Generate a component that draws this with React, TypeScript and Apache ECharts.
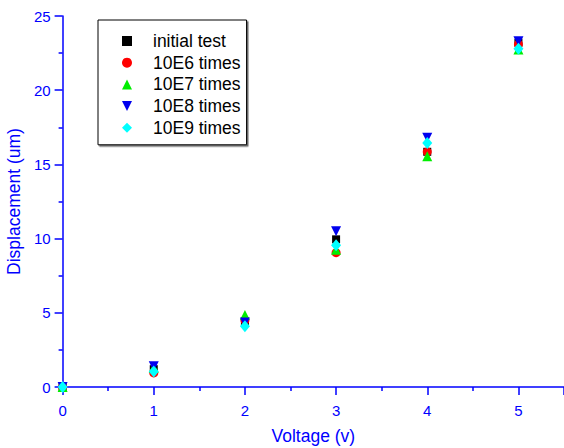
import React, { useEffect, useRef } from "react";
import * as echarts from "echarts";

const voltages = [0, 1, 2, 3, 4, 5];
const initialTest = [0, 1.2, 4.4, 9.95, 15.85, 23.2];
const e6Times = [0, 0.95, 4.5, 9.05, 15.85, 23.1];
const e7Times = [0, 1.3, 4.85, 9.25, 15.55, 22.75];
const e8Times = [0, 1.4, 4.35, 10.5, 16.8, 23.3];
const e9Times = [0, 1.05, 4.1, 9.55, 16.45, 22.8];

const seriesNames = ["initial test", "10E6 times", "10E7 times", "10E8 times", "10E9 times"];
const seriesData = [initialTest, e6Times, e7Times, e8Times, e9Times];
const seriesColors = ["#000000", "#ff0000", "#00ee00", "#0000ee", "#00ffff"];
const seriesSymbols = ["rect", "circle", "triangle", "path://M0,0L10,0L5,10Z", "diamond"];
const seriesSizes: any[] = [8, 9, 10, 10, [10, 12]];
const legendIcons = ["rect", "circle", "triangle", "path://M0,0L10,0L5,10Z", "diamond"];

const BLUE = "#0000ff";
const FONT = "Liberation Sans, Arial, sans-serif";

export default function App() {
  const ref = useRef<HTMLDivElement>(null);
  useEffect(() => {
    if (!ref.current) return;
    const chart = echarts.init(ref.current, undefined, { renderer: "svg" });
    chart.setOption({
      animation: false,
      backgroundColor: "#ffffff",
      textStyle: { fontFamily: FONT },
      grid: { left: 62.6, right: 0, top: 16, bottom: 61, containLabel: false, outerBoundsMode: "none" },
      legend: {
        orient: "vertical",
        left: 98,
        top: 20,
        padding: [12, 6, 8, 24],
        itemWidth: 10,
        itemHeight: 10,
        itemGap: 3.7,
        borderColor: "#000",
        borderWidth: 1,
        backgroundColor: "#fff",
        shadowColor: "#666",
        shadowOffsetX: 1.5,
        shadowOffsetY: 1.5,
        shadowBlur: 0,
        textStyle: { fontSize: 17.5, color: "#000", fontFamily: FONT, lineHeight: 17, padding: [0, 0, 0, 16] },
        data: seriesNames.map((n, i) => ({ name: n, icon: legendIcons[i] })),
      },
      xAxis: {
        type: "value",
        min: 0,
        max: 5.5,
        interval: 1,
        name: "Voltage (v)",
        nameLocation: "middle",
        nameGap: 40,
        nameTextStyle: { color: BLUE, fontSize: 17.5, fontFamily: FONT },
        axisLine: { show: true, onZero: false, lineStyle: { color: BLUE, width: 1.5 } },
        axisTick: { show: true, length: 8, lineStyle: { color: BLUE, width: 1.5 } },
        minorTick: { show: true, splitNumber: 2, length: 4, lineStyle: { color: BLUE, width: 1.5 } },
        splitLine: { show: false },
        axisLabel: { color: BLUE, fontSize: 15, margin: 16, showMaxLabel: false, fontFamily: FONT },
      },
      yAxis: {
        type: "value",
        min: 0,
        max: 25,
        interval: 5,
        name: "Displacement (um)",
        nameLocation: "middle",
        nameGap: 35,
        nameTextStyle: { color: BLUE, fontSize: 17.5, fontFamily: FONT },
        axisLine: { show: true, onZero: false, lineStyle: { color: BLUE, width: 1.5 } },
        axisTick: { show: true, length: 8, lineStyle: { color: BLUE, width: 1.5 } },
        minorTick: { show: true, splitNumber: 2, length: 4, lineStyle: { color: BLUE, width: 1.5 } },
        splitLine: { show: false },
        axisLabel: { color: BLUE, fontSize: 15, margin: 12, fontFamily: FONT },
      },
      series: seriesNames.map((name, i) => ({
        name,
        type: "scatter",
        symbol: seriesSymbols[i],
        symbolSize: seriesSizes[i],
        clip: false,
        itemStyle: { color: seriesColors[i], opacity: 1 },
        data: voltages.map((v, j) => [v, seriesData[i][j]]),
      })),
    });
    return () => chart.dispose();
  }, []);
  return <div ref={ref} style={{ width: 564, height: 448, position: "absolute", left: 0, top: 0 }} />;
}
